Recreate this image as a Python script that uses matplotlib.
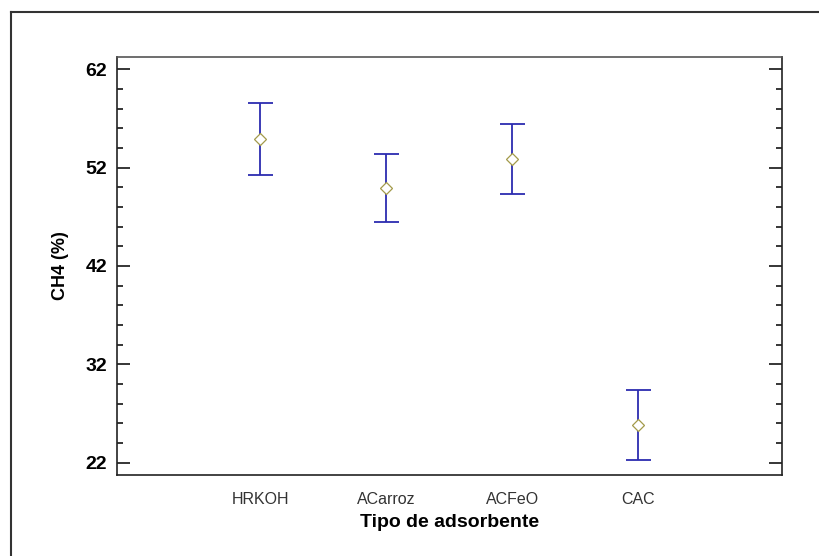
import matplotlib
matplotlib.use("Agg")
import matplotlib.pyplot as plt
from matplotlib.lines import Line2D
from matplotlib.ticker import MultipleLocator

# medias e intervalos
adsorbentes = ['HRKOH', 'ACarroz', 'ACFeO', 'CAC']
media_ch4 = [54.95, 49.9, 52.85, 25.85]
intervalo = [3.65, 3.45, 3.55, 3.55]
ticks_y = [22, 32, 42, 52, 62]

plt.rcParams['font.family'] = ['Liberation Sans', 'DejaVu Sans']

fig = plt.figure(figsize=(8.2, 5.56), dpi=100)
ax = fig.add_axes([0.1427, 0.1457, 0.811, 0.7518])

pos = list(range(len(adsorbentes)))
ax.errorbar(pos, media_ch4, yerr=intervalo, fmt='none', ecolor='#2c2cb0',
            elinewidth=1.3, capsize=9, capthick=1.3)
ax.plot(pos, media_ch4, linestyle='none', marker='D', markersize=6.3,
        markerfacecolor='white', markeredgecolor='#a39a4a', markeredgewidth=0.9)

ax.set_xlim(-1.135, 4.14)
ax.set_ylim(20.75, 63.25)
ax.set_xticks(pos)
ax.set_xticklabels(adsorbentes, fontsize=11.5, color='#333333')
ax.set_yticks(ticks_y)
ax.set_yticklabels([str(t) for t in ticks_y], fontsize=14, fontweight='bold')
ax.yaxis.set_minor_locator(MultipleLocator(2))

ax.tick_params(axis='x', length=0, pad=12)
ax.tick_params(axis='y', which='major', direction='in', length=9.5, width=1.1,
               left=True, right=True, pad=7)
ax.tick_params(axis='y', which='minor', direction='in', length=4.5, width=1.1,
               left=True, right=True)

for s in ax.spines.values():
    s.set_linewidth(1.2)
    s.set_color('#222222')
ax.spines['top'].set_color('#555555')

ax.set_xlabel('Tipo de adsorbente', fontsize=14, fontweight='bold', labelpad=5)
ax.set_ylabel('CH4 (%)', fontsize=13, fontweight='bold', labelpad=12)

# marco exterior de la imagen
fig.add_artist(Line2D([11 / 820, 11 / 820], [0, 1 - 12 / 556], color='#333333', lw=1.5))
fig.add_artist(Line2D([11 / 820, 1], [1 - 12 / 556, 1 - 12 / 556], color='#333333', lw=1.5))

fig.savefig('out.png', dpi=100)
